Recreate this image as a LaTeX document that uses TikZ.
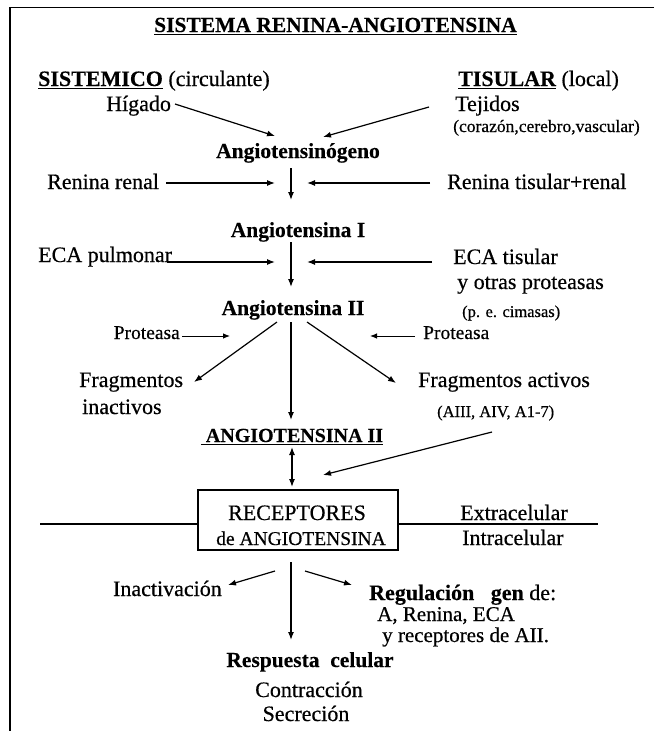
\documentclass[tikz,border=0pt]{standalone}
\usepackage{fontspec}
\setmainfont{Liberation Serif}[UprightFeatures={FakeBold=0.5},BoldFeatures={FakeBold=0.3}]
\usetikzlibrary{arrows.meta}
\newcommand{\myul}[1]{\setbox0=\hbox{#1}\rlap{\rule[-3pt]{\wd0}{1.3pt}}\box0}
\begin{document}
\begin{tikzpicture}[x=1pt,y=-1pt,
  txt/.style={inner sep=0pt, font=\fontsize{22}{26}\selectfont},
  bld/.style={inner sep=0pt, font=\fontsize{21.5}{26}\selectfont\bfseries},
  sml/.style={inner sep=0pt, font=\fontsize{16.5}{20}\selectfont},
  pro/.style={inner sep=0pt, font=\fontsize{19.5}{23}\selectfont},
  arr/.style={line width=1.2pt, -{Latex[length=8pt,width=6pt]}},
  thinarr/.style={line width=0.9pt, -{Latex[length=7pt,width=5.5pt]}},
  frame/.style={line width=1.2pt},
  ]
\useasboundingbox (0,0) rectangle (654,731);
% frame
\coordinate (fr1) at (654,7.5);
\coordinate (fr2) at (10,7.5);
\coordinate (fr3) at (10,731);
\draw[frame] (fr1) -- (fr2) -- (fr3);

% texts
\node[bld, anchor=base] (title) at (335.5,32) {\myul{SISTEMA RENINA-ANGIOTENSINA}};
\node[txt, anchor=base west] (sist) at (38,86) {\textbf{\myul{SISTEMICO}} (circulante)};
\node[txt, anchor=base west] (hig) at (106,111) {Hígado};
\node[txt, anchor=base west] (tis) at (458,86) {\textbf{\myul{TISULAR}} (local)};
\node[txt, anchor=base west] (tej) at (455,111) {Tejidos};
\node[inner sep=0pt, font=\fontsize{17.5}{20}\selectfont, anchor=base west] (cor) at (453,132) {(corazón,cerebro,vascular)};
\node[bld, anchor=base] (agen) at (298,158) {Angiotensinógeno};
\node[txt, anchor=base west] (rr) at (47,189) {Renina renal};
\node[txt, anchor=base west] (rtr) at (447,189) {Renina tisular+renal};
\node[bld, anchor=base] (a1) at (298,237) {Angiotensina I};
\node[txt, anchor=base west] (ecap) at (38,262) {ECA pulmonar};
\node[txt, anchor=base west] (ecat) at (453,264) {ECA tisular};
\node[txt, anchor=base west] (otras) at (457,289) {y otras proteasas};
\node[sml, anchor=base west] (cim) at (462,317) {(p. e. cimasas)};
\node[bld, anchor=base] (a2) at (293,315) {Angiotensina II};
\node[pro, anchor=base east] (protl) at (180,339) {Proteasa};
\node[pro, anchor=base west] (protr) at (423,339) {Proteasa};
\node[txt, anchor=base west] (fi1) at (79,387) {Fragmentos};
\node[txt, anchor=base west] (fi2) at (82,414) {inactivos};
\node[txt, anchor=base west] (fa1) at (418,387) {Fragmentos activos};
\node[sml, anchor=base west] (fa2) at (437,417) {(AIII, AIV, A1-7)};
\node[inner sep=0pt, font=\fontsize{20}{24}\selectfont\bfseries, anchor=base] (a2b) at (292,442) {\myul{\kern5pt ANGIOTENSINA II}};

% receptor box
\node[draw, line width=1.2pt, minimum width=200pt, minimum height=60pt, inner sep=0pt] (box) at (298,520) {};
\node[txt, anchor=base] (rec1) at (297,520) {RECEPTORES};
\node[inner sep=0pt, font=\fontsize{19.5}{23}\selectfont, anchor=base] (rec2) at (301,545) {de ANGIOTENSINA};
\coordinate (ml) at (40,524);
\coordinate (mr) at (598,524);
\draw[frame] (ml) -- (ml -| box.west);
\draw[frame] (box.east |- mr) -- (mr);
\node[txt, anchor=base west] (extra) at (460,520) {Extracelular};
\node[txt, anchor=base west] (intra) at (462,545) {Intracelular};

\node[txt, anchor=base east] (inact) at (222,596) {Inactivación};
\node[txt, anchor=base west] (reg1) at (369,600) {\textbf{Regulación\ \ \ gen} de:};
\node[inner sep=0pt, font=\fontsize{21}{24}\selectfont, anchor=base west] (reg2) at (377,621) {A, Renina, ECA};
\node[inner sep=0pt, font=\fontsize{21}{24}\selectfont, anchor=base west] (reg3) at (382,642) {y receptores de AII.};
\node[bld, anchor=base] (resp) at (310,667) {Respuesta\ \ celular};
\node[txt, anchor=base] (contr) at (309,697) {Contracción};
\node[txt, anchor=base] (secr) at (306,721) {Secreción};

% arrow end points
\coordinate (hS) at (175,104);  \coordinate (hE) at (275,136);
\coordinate (tS) at (429,107);  \coordinate (tE) at (323,137);
\coordinate (v1S) at (291,168); \coordinate (v1E) at (291,200);
\coordinate (rrS) at (166,183); \coordinate (rrE) at (275,183);
\coordinate (rtS) at (430,183); \coordinate (rtE) at (307,183);
\coordinate (v2S) at (291,242); \coordinate (v2E) at (291,287);
\coordinate (epS) at (167,262); \coordinate (epE) at (275,262);
\coordinate (etS) at (432,262); \coordinate (etE) at (307,262);
\coordinate (plS) at (182,336); \coordinate (plE) at (230,336);
\coordinate (prS) at (415,336); \coordinate (prE) at (370,336);
\coordinate (dlS) at (277,322); \coordinate (dlE) at (194,382);
\coordinate (dcS) at (291,322); \coordinate (dcE) at (291,420);
\coordinate (drS) at (307,322); \coordinate (drE) at (396,383);
\coordinate (dbS) at (292,447); \coordinate (dbE) at (292,487);
\coordinate (faS) at (492,432); \coordinate (faE) at (323,475);
\coordinate (bcS) at (291,562); \coordinate (bcE) at (291,640);
\coordinate (blS) at (275,571); \coordinate (blE) at (228,585);
\coordinate (brS) at (305,571); \coordinate (brE) at (352,585);

\draw[arr] (hS) -- (hE);
\draw[arr] (tS) -- (tE);
\draw[arr] (v1S) -- (v1E);
\draw[arr] (rrS) -- (rrE);
\draw[arr] (rtS) -- (rtE);
\draw[arr] (v2S) -- (v2E);
\draw[arr] (epS) -- (epE);
\draw[arr] (etS) -- (etE);
\draw[thinarr] (plS) -- (plE);
\draw[thinarr] (prS) -- (prE);
\draw[arr] (dlS) -- (dlE);
\draw[arr] (dcS) -- (dcE);
\draw[arr] (drS) -- (drE);
\draw[line width=1.2pt, {Latex[length=8pt,width=6pt]}-{Latex[length=8pt,width=6pt]}] (dbS) -- (dbE);
\draw[arr] (faS) -- (faE);
\draw[arr] (bcS) -- (bcE);
\draw[arr] (blS) -- (blE);
\draw[arr] (brS) -- (brE);
\end{tikzpicture}
\end{document}
